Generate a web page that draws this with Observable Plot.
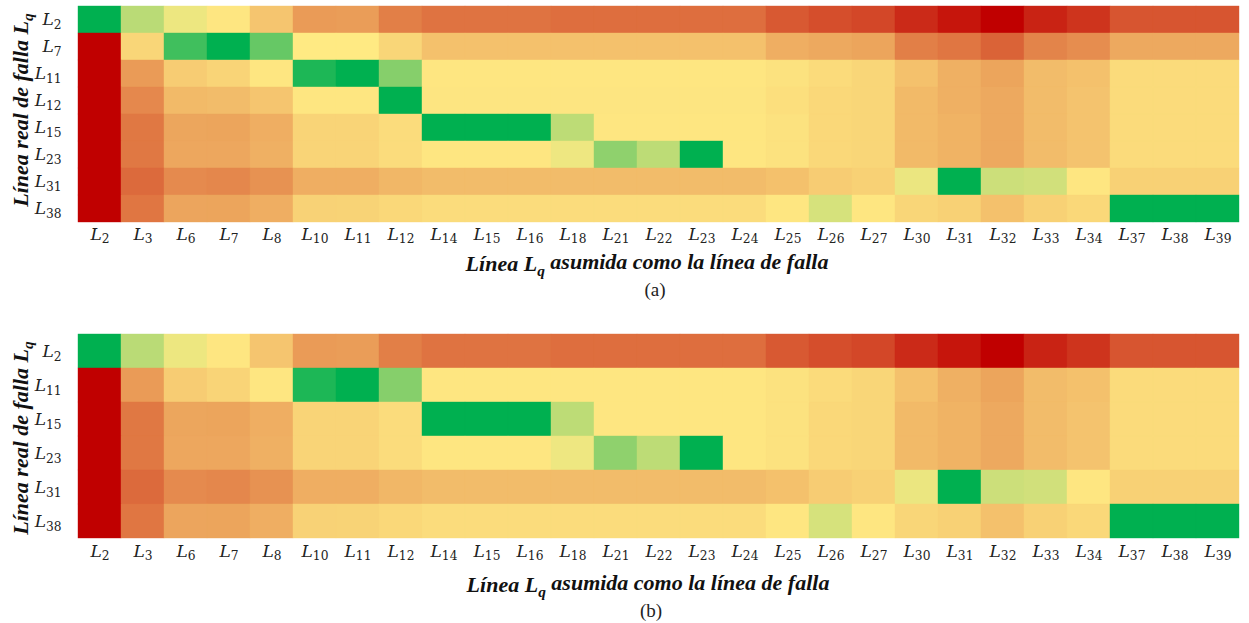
<!DOCTYPE html>
<html><head><meta charset="utf-8">
<script src="https://cdn.jsdelivr.net/npm/d3@7"></script>
<script src="https://cdn.jsdelivr.net/npm/@observablehq/plot@0.6"></script>
<style>
body{margin:0;background:#fff}
#chart svg{display:block}
</style>
</head><body><div id="chart"></div>
<script>
// Columns: line Lq assumed as the fault line
const columns = ["L2","L3","L6","L7","L8","L10","L11","L12","L14","L15","L16","L18","L21","L22","L23","L24","L25","L26","L27","L30","L31","L32","L33","L34","L37","L38","L39"];
// Rows: real fault line
const rowsA = ["L2","L7","L11","L12","L15","L23","L31","L38"];
const rowsB = ["L2","L11","L15","L23","L31","L38"];

// Normalised similarity score (0 = worst/red, 0.5 = yellow, 1 = best/green)
const vL2  = [1.00,0.635,0.535,0.49,0.42,0.33,0.335,0.27, 0.245,0.245,0.245,0.235,0.235,0.235,0.235,0.235, 0.19,0.165,0.15,0.09,0.045,0.00,0.075,0.11,0.18,0.18,0.18];
const vL7  = [0.00,0.455,0.875,1.00,0.80,0.497,0.497,0.455, 0.41,0.41,0.41,0.41,0.41,0.41,0.41,0.41, 0.37,0.36,0.35,0.27,0.25,0.21,0.28,0.30,0.36,0.36,0.36];
const vL11 = [0.00,0.33,0.434,0.45,0.49,0.943,1.00,0.737, 0.49,0.49,0.49,0.49,0.49,0.49,0.49,0.49, 0.48,0.465,0.455,0.41,0.375,0.35,0.40,0.41,0.465,0.465,0.465];
const vL12 = [0.00,0.29,0.395,0.40,0.42,0.49,0.49,1.00, 0.487,0.487,0.487,0.487,0.487,0.487,0.487,0.487, 0.475,0.46,0.455,0.395,0.375,0.36,0.40,0.415,0.465,0.465,0.465];
const vL15 = [0.00,0.255,0.353,0.35,0.37,0.45,0.45,0.468, 1.00,1.00,1.00,0.63,0.49,0.49,0.49,0.49, 0.48,0.46,0.455,0.395,0.38,0.36,0.40,0.415,0.465,0.465,0.465];
const vL23 = [0.00,0.255,0.355,0.355,0.375,0.45,0.45,0.468, 0.49,0.49,0.49,0.533,0.72,0.63,1.00,0.49, 0.48,0.46,0.455,0.395,0.38,0.36,0.40,0.415,0.465,0.465,0.465];
const vL31 = [0.00,0.226,0.294,0.287,0.31,0.37,0.37,0.39, 0.40,0.40,0.40,0.40,0.40,0.40,0.40,0.40, 0.41,0.435,0.445,0.54,1.00,0.60,0.59,0.49,0.445,0.445,0.445];
const vL38 = [0.00,0.25,0.352,0.35,0.37,0.447,0.448,0.46, 0.468,0.468,0.468,0.468,0.468,0.468,0.468,0.468, 0.49,0.58,0.49,0.455,0.445,0.41,0.445,0.46,1.00,1.00,1.00];

const rowValues = {L2: vL2, L7: vL7, L11: vL11, L12: vL12, L15: vL15, L23: vL23, L31: vL31, L38: vL38};

const xTitlePre = "Línea ";
const xTitlePost = " asumida como la línea de falla";
const yTitlePre = "Línea real de falla ";

function tableFor(rows) {
  const out = [];
  for (const r of rows) rowValues[r].forEach((v, i) => out.push({row: r, col: columns[i], v}));
  return out;
}

const serif = "'Liberation Serif', 'DejaVu Serif', serif";
const tickSerif = "'DejaVu Serif', 'Liberation Serif', serif";

function subTicks(svg) {
  d3.select(svg).selectAll('g[aria-label$="tick label"] text').each(function() {
    const t = d3.select(this);
    const s = t.text();
    t.text(null);
    t.append("tspan").attr("font-style", "italic").text(s[0]);
    t.append("tspan").attr("font-size", "0.72em").attr("dy", "0.3em").text(s.slice(1));
  });
}

function addLq(sel, pre, post, size) {
  sel.append("tspan").text(pre);
  sel.append("tspan").text("L");
  sel.append("tspan").attr("font-size", (size * 0.7) + "px").attr("dy", "0.3em").text("q");
  if (post) sel.append("tspan").attr("dy", "-0.3em").text(post);
}

function panel(rows, opts) {
  const svg = Plot.plot({
    width: 1249,
    height: opts.height,
    marginTop: opts.mt,
    marginBottom: opts.mb,
    marginLeft: 67,
    marginRight: 0,
    style: {fontFamily: tickSerif, fontSize: "17px", color: "#222", background: "#fff"},
    x: {domain: columns, padding: 0, label: null, tickSize: 0, tickPadding: 5},
    y: {domain: rows, padding: 0, label: null, tickSize: 0, tickPadding: 6},
    color: {type: "linear", domain: [0, 0.5, 1], range: ["#C00000", "#FFEB84", "#00B050"], interpolate: "rgb"},
    marks: [
      Plot.cell(tableFor(rows), {x: "col", y: "row", fill: "v", inset: 0, stroke: "v", strokeWidth: 0.4})
    ]
  });
  subTicks(svg);
  const s = d3.select(svg);
  const size = 22;
  const xt = s.append("text").attr("x", opts.xtx).attr("y", opts.xty).attr("text-anchor", "middle")
    .attr("font-family", serif).attr("font-size", size + "px").attr("font-weight", "bold").attr("font-style", "italic").attr("fill", "#111");
  addLq(xt, xTitlePre, xTitlePost, size);
  const yt = s.append("text").attr("transform", `translate(28,${opts.ytc}) rotate(-90)`).attr("text-anchor", "middle")
    .attr("font-family", serif).attr("font-size", size + "px").attr("font-weight", "bold").attr("font-style", "italic").attr("fill", "#111");
  addLq(yt, yTitlePre, null, size);
  s.append("text").attr("x", opts.capx).attr("y", opts.capy).attr("text-anchor", "middle")
    .attr("font-family", serif).attr("font-size", "19px").attr("fill", "#222").text(opts.cap);
  return svg;
}

const chart = document.getElementById("chart");
chart.appendChild(panel(rowsA, {height: 300, mt: 5, mb: 78, xtx: 647, xty: 271, ytc: 110, capx: 655, capy: 296, cap: "(a)"}));
chart.appendChild(panel(rowsB, {height: 323, mt: 33, mb: 84, xtx: 648, xty: 292, ytc: 138, capx: 651, capy: 317, cap: "(b)"}));
</script>
</body></html>
